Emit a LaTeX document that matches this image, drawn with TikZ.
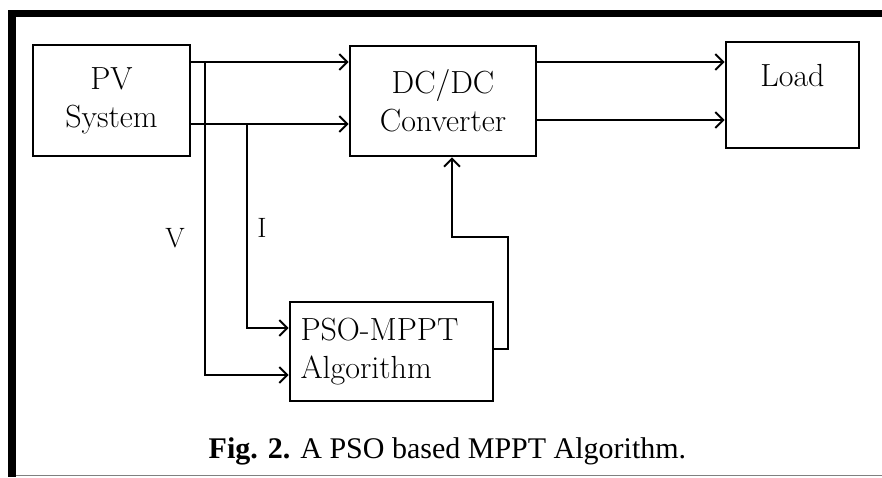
\documentclass[tikz,border=0pt]{standalone}
\usepackage{fontspec}
\newfontfamily\capfont{Liberation Serif}
\usetikzlibrary{arrows.meta,calc}

\begin{document}
\begin{tikzpicture}[x=1pt, y=-1pt, >={Straight Barb[length=8pt,width=16pt]},
    block/.style={draw, line width=2.6pt, inner sep=0pt, align=center,
        font=\fontsize{32}{38}\selectfont},
    conn/.style={line width=2pt},
    sig/.style={font=\fontsize{28}{32}\selectfont}]

    \useasboundingbox (0,0) rectangle (882,477);

    % frame
    \fill (8,10) rectangle (882,17);
    \fill (8,10) rectangle (16,477);
    \draw [gray, line width=1.5pt] (16,475.5) -- (882,475.5);

    % blocks
    \node [block, minimum width=157pt, minimum height=111pt] (pv) at (111.5,100.5) {PV\\System};
    \node [block, minimum width=186pt, minimum height=110pt] (dc) at (443,101) {DC/DC\\Converter};
    \node [block, minimum width=133pt, minimum height=106pt, text height=22pt, text depth=40pt] (load) at (792.5,95) {Load};
    \node [block, align=left, text width=182pt, minimum width=203pt, minimum height=99pt] (pso) at (391.5,351.5) {PSO-MPPT\\Algorithm};

    % taps and bends
    \coordinate (vtap) at (205,62);
    \coordinate (itap) at (247,124);
    \coordinate (out2) at (536,120);
    \coordinate (fb) at (508,237);
    \coordinate (fbx) at (452,237);

    % arrows
    \foreach \c in {vtap,itap}
    \draw [conn, ->] (pv.east |- \c) -- (dc.west |- \c);

    \foreach \c in {vtap,out2}
    \draw [conn, ->] (dc.east |- \c) -- (load.west |- \c);

    \draw [conn, ->] (vtap) |- ($(pso.west)+(0,23.5)$);
    \draw [conn, ->] (itap) |- ($(pso.west)+(0,-23.5)$);
    \draw [conn, ->] ($(pso.east)+(0,-2.5)$) -| (fb) -| (dc.south -| fbx);

    % labels
    \node [sig] (vlabel) at (175,238) {V};
    \node [sig] (ilabel) at (262,228) {I};

    \node [font=\capfont\fontsize{30}{34}\selectfont, anchor=base] (caption) at (447.5,458)
    {\textbf{Fig. 2.} A PSO based MPPT Algorithm.};
\end{tikzpicture}
\end{document}
